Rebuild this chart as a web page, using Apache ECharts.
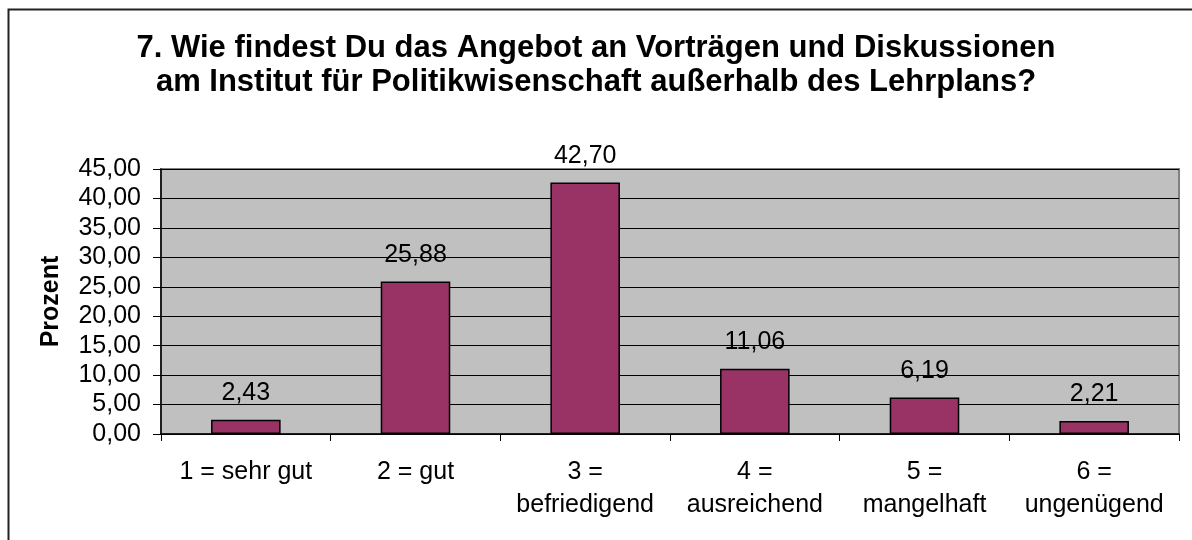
<!DOCTYPE html>
<html>
<head>
<meta charset="utf-8">
<script src="https://cdn.jsdelivr.net/npm/echarts@6/dist/echarts.min.js"></script>
<style>
  html, body { margin: 0; padding: 0; background: #fff; }
  #chart { width: 1192px; height: 540px; }
</style>
</head>
<body>
<div id="chart"></div>
<script>
const categories = [
    '1 = sehr gut',
    '2 = gut',
    '3 =\nbefriedigend',
    '4 =\nausreichend',
    '5 =\nmangelhaft',
    '6 =\nungenügend'
];
const prozent = [2.43, 25.88, 42.70, 11.06, 6.19, 2.21];
const titleLines = [
    '7. Wie findest Du das Angebot an Vorträgen und Diskussionen',
    'am Institut für Politikwisenschaft außerhalb des Lehrplans?'
];

const fmt = v => v.toFixed(2).replace('.', ',');
const font = 'Liberation Sans, Arial, sans-serif';

const chart = echarts.init(document.getElementById('chart'));
const option = {
    backgroundColor: '#ffffff',
    animation: false,
    textStyle: { fontFamily: font },
    title: {
        text: titleLines.join('\n'),
        left: 'center',
        top: 26,
        textStyle: {
            fontFamily: font,
            fontSize: 31,
            fontWeight: 'bold',
            color: '#000',
            lineHeight: 34
        }
    },
    graphic: [{
        type: 'rect',
        shape: { x: 8.5, y: 9.5, width: 1300, height: 700 },
        style: { fill: null, stroke: '#222', lineWidth: 2 },
        silent: true
    }],
    grid: {
        left: 161,
        right: 13,
        top: 169,
        bottom: 106,
        show: true,
        backgroundColor: '#c0c0c0',
        borderColor: '#808080',
        borderWidth: 2
    },
    xAxis: {
        type: 'category',
        data: categories,
        axisLine: { lineStyle: { color: '#000', width: 1.5 } },
        axisTick: { show: true, length: 7, lineStyle: { color: '#000' } },
        axisLabel: {
            color: '#000',
            fontSize: 25,
            lineHeight: 33,
            margin: 22,
            interval: 0
        }
    },
    yAxis: {
        type: 'value',
        min: 0,
        max: 45,
        interval: 5,
        name: 'Prozent',
        nameLocation: 'middle',
        nameGap: 97,
        nameTextStyle: { fontSize: 25, fontWeight: 'bold', color: '#000' },
        axisLine: { show: true, lineStyle: { color: '#000', width: 1.5 } },
        axisTick: { show: true, length: 8, lineStyle: { color: '#000' } },
        axisLabel: {
            color: '#000',
            fontSize: 25,
            margin: 20,
            formatter: fmt
        },
        splitLine: { lineStyle: { color: '#000', width: 1 } }
    },
    series: [{
        type: 'bar',
        data: prozent,
        barWidth: '41%',
        itemStyle: {
            color: '#993366',
            borderColor: '#000',
            borderWidth: 1.5
        },
        label: {
            show: true,
            position: 'top',
            distance: 14,
            color: '#000',
            fontSize: 25,
            formatter: p => fmt(p.value)
        }
    }]
};
chart.setOption(option);
</script>
</body>
</html>
